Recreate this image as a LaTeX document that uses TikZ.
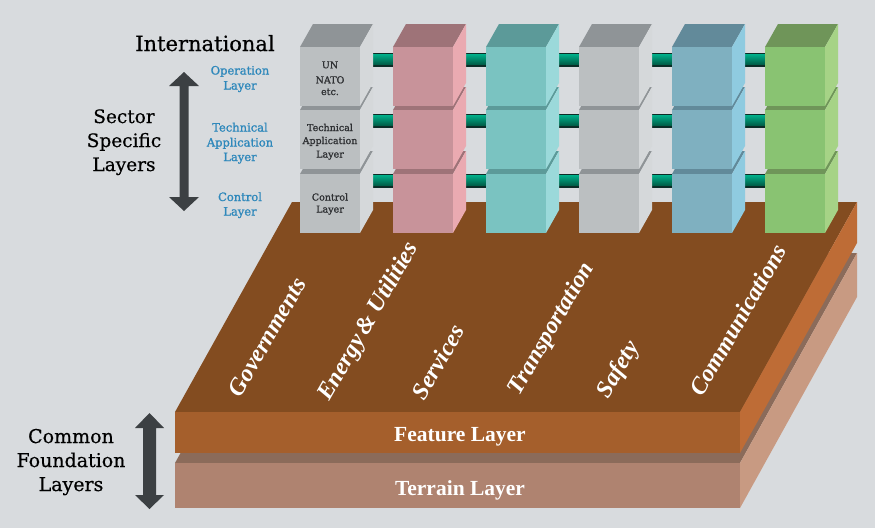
\documentclass[tikz,border=0pt]{standalone}
\usepackage{fontspec}
\setmainfont{DejaVu Serif}
\newfontfamily\timesfont{Liberation Serif}
\newfontfamily\labelfont{DejaVu Serif}[FakeBold=1.2]
\newfontfamily\headfont{DejaVu Serif}[FakeBold=0.5]
\definecolor{bg}{HTML}{D8DBDE}
\definecolor{gfront}{HTML}{BBBFC1}
\definecolor{gtop}{HTML}{8F9497}
\definecolor{gright}{HTML}{D5D8DA}
\definecolor{pfront}{HTML}{C8939A}
\definecolor{ptop}{HTML}{9E7378}
\definecolor{pright}{HTML}{EAAAB1}
\definecolor{tfront}{HTML}{7AC3C1}
\definecolor{ttop}{HTML}{5C9A99}
\definecolor{tright}{HTML}{9BD9DA}
\definecolor{bfront}{HTML}{7FB0C0}
\definecolor{btop}{HTML}{628A9A}
\definecolor{bright}{HTML}{8FCBE0}
\definecolor{nfront}{HTML}{89C372}
\definecolor{ntop}{HTML}{6F9559}
\definecolor{nright}{HTML}{A6D386}
\definecolor{feattop}{HTML}{834C20}
\definecolor{featfront}{HTML}{A55F2C}
\definecolor{featright}{HTML}{BE6C36}
\definecolor{terrtop}{HTML}{8B6B5A}
\definecolor{terrfront}{HTML}{AF8370}
\definecolor{terrright}{HTML}{C89A82}
\definecolor{barhi}{HTML}{00B08A}
\definecolor{barlo}{HTML}{005C46}
\definecolor{bardark}{HTML}{0B2D27}
\definecolor{arrowc}{HTML}{3C4043}
\definecolor{bluetxt}{HTML}{2E88BB}
\definecolor{cubetxt}{HTML}{2E3033}
\newcommand{\mycube}[5]{%
  \fill[#4] (#1,#2) -- ++(60,0) -- ++(13,-23) -- ++(-60,0) -- cycle;
  \fill[#5] (#1+60,#2) -- ++(13,-23) -- ++(0,59) -- ++(-13,23) -- cycle;
  \fill[#3] (#1,#2) rectangle ++(60,59);
}
\begin{document}
\begin{tikzpicture}[x=1pt,y=-1pt,
  bigtxt/.style={font=\headfont\fontsize{19}{19}\selectfont, anchor=base, text=black, inner sep=0pt},
  bluelbl/.style={font=\labelfont\fontsize{11.5}{11.5}\selectfont, anchor=base, text=bluetxt, inner sep=0pt},
  cubelbl/.style={font=\labelfont\fontsize{9.5}{9.5}\selectfont, anchor=base, text=cubetxt, inner sep=0pt},
  slablbl/.style={font=\timesfont\bfseries\fontsize{21.5}{21.5}\selectfont, anchor=base, text=white, inner sep=0pt},
  sectorlbl/.style={font=\timesfont\bfseries\itshape\fontsize{24}{24}\selectfont, text=white, rotate=60, inner sep=0pt}]
\fill[bg] (0,0) rectangle (875,528);
\useasboundingbox (0,0) rectangle (875,528);
% terrain layer
\fill[terrtop] (175,463) -- (740,463) -- (857,253) -- (292,253) -- cycle;
\fill[terrfront] (175,463) rectangle (740,508);
\fill[terrright] (740,463) -- (857,253) -- (857,297) -- (740,508) -- cycle;
% feature layer
\fill[feattop] (175,412) -- (740,412) -- (857,202) -- (292,202) -- cycle;
\fill[featfront] (175,412) rectangle (740,453);
\fill[featright] (740,412) -- (857,202) -- (857,243) -- (740,453) -- cycle;
% connecting bars
\foreach \cx in {300,393,486,579,672}{
  \foreach \yb in {53,114,174}{
    \fill[bardark] (\cx+60,\yb) rectangle (\cx+93,\yb+14);
    \shade[top color=barhi, bottom color=barlo] (\cx+60,\yb+1) rectangle (\cx+93,\yb+11.5);
  }
}
% columns of cubes
\foreach \cx/\cf/\ct/\cr in {300/gfront/gtop/gright, 393/pfront/ptop/pright, 486/tfront/ttop/tright, 579/gfront/gtop/gright, 672/bfront/btop/bright, 765/nfront/ntop/nright}{
  \foreach \yt in {174,110,47}{
    \mycube{\cx}{\yt}{\cf}{\ct}{\cr}
  }
}
% arrows
\fill[arrowc] (184,72) -- (199,86) -- (188.5,86) -- (188.5,197) -- (199,197) -- (184,211) -- (169,197) -- (179.5,197) -- (179.5,86) -- (169,86) -- cycle;
\fill[arrowc] (149.5,413) -- (164,428) -- (156,428) -- (156,495) -- (164,495) -- (149.5,509) -- (135,495) -- (143,495) -- (143,428) -- (135,428) -- cycle;
% left texts
\node[bigtxt, font=\headfont\fontsize{21}{21}\selectfont] (intl) at (205,51) {International};
\node[bigtxt, font=\headfont\fontsize{18.5}{18.5}\selectfont] (sec1) at (124,123) {Sector};
\node[bigtxt, font=\headfont\fontsize{18.5}{18.5}\selectfont] (sec2) at (124,147) {Specific};
\node[bigtxt, font=\headfont\fontsize{18.5}{18.5}\selectfont] (sec3) at (124,171) {Layers};
\node[bigtxt] (com1) at (71,443) {Common};
\node[bigtxt] (com2) at (71,467) {Foundation};
\node[bigtxt] (com3) at (71,491) {Layers};
% blue labels
\node[bluelbl] (op1) at (240,74.5) {Operation};
\node[bluelbl] (op2) at (240,89.5) {Layer};
\node[bluelbl] (ta1) at (240,131.5) {Technical};
\node[bluelbl] (ta2) at (240,146.5) {Application};
\node[bluelbl] (ta3) at (240,161) {Layer};
\node[bluelbl] (ct1) at (240,201) {Control};
\node[bluelbl] (ct2) at (240,215.5) {Layer};
% cube labels
\node[cubelbl] (un) at (330,68.3) {UN};
\node[cubelbl] (nato) at (330,83.3) {NATO};
\node[cubelbl] (etc) at (330,95) {etc.};
\node[cubelbl] (ct1c) at (330,131) {Technical};
\node[cubelbl] (ct2c) at (330,144) {Application};
\node[cubelbl] (ct3c) at (330,157.5) {Layer};
\node[cubelbl] (cc1) at (330,200.5) {Control};
\node[cubelbl] (cc2) at (330,212.5) {Layer};
% slab labels
\node[slablbl] (feat) at (460,441) {Feature Layer};
\node[slablbl] (terr) at (460,495) {Terrain Layer};
% sector names
\node[sectorlbl] (gov) at (267,337) {Governments};
\node[sectorlbl] (ene) at (369,322) {Energy\,\& Utilities};
\node[sectorlbl] (ser) at (438,362) {Services};
\node[sectorlbl] (tra) at (552,329) {Transportation};
\node[sectorlbl] (saf) at (619,370) {Safety};
\node[sectorlbl] (comm) at (738,320) {Communications};
\end{tikzpicture}
\end{document}
